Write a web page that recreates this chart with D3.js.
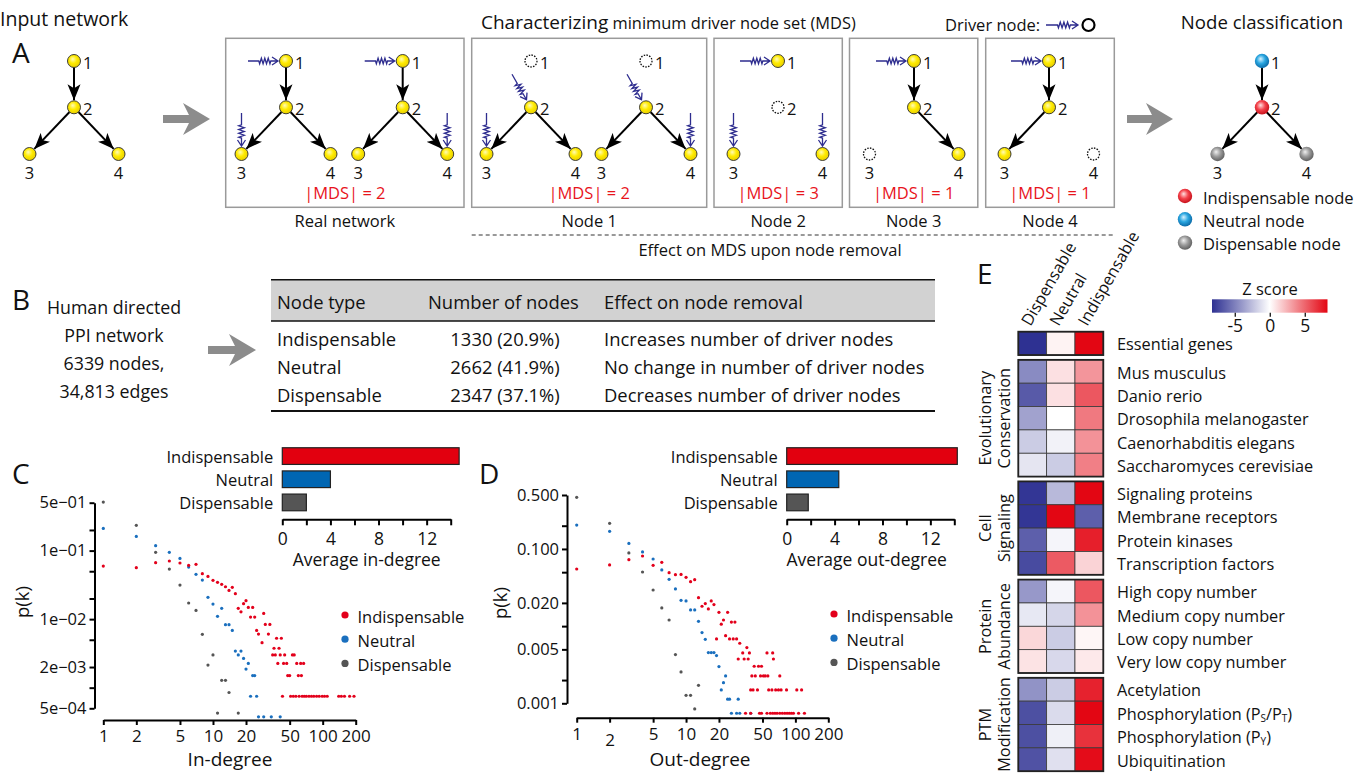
<!DOCTYPE html>
<html>
<head>
<meta charset="utf-8">
<script src="https://cdn.jsdelivr.net/npm/d3@7"></script>
<style>
  body { margin: 0; background: #fff; }
  svg text { font-family: "Open Sans", sans-serif; fill: #111; }
</style>
</head>
<body>
<div id="chart"></div>
<script>
// ---------- data ----------
const nodeTypes = ["Indispensable", "Neutral", "Dispensable"];
const avgInDegree = [14.7, 4.0, 2.0];
const avgOutDegree = [14.25, 4.35, 1.8];

const networkInfo = ["Human directed", "PPI network", "6339 nodes,", "34,813 edges"];
const tableHeader = ["Node type", "Number of nodes", "Effect on node removal"];
const tableCounts = ["1330 (20.9%)", "2662 (41.9%)", "2347 (37.1%)"];
const tableEffects = ["Increases number of driver nodes", "No change in number of driver nodes", "Decreases number of driver nodes"];

const boxLabels = ["Real  network", "Node 1", "Node 2", "Node 3", "Node 4"];
const mdsSizes = [2, 2, 3, 1, 1];
const classLabels = ["Indispensable node", "Neutral node", "Dispensable node"];

// degree distributions [k, p(k)]
const inIndisp = [[1,0.0595],[2,0.0563],[3,0.0666],[4,0.0705],[5,0.0659],[6,0.0609],[7,0.063],[8,0.046],[9,0.042],[10,0.0368],
  [11,0.0344],[12,0.0322],[13,0.0297],[14,0.0262],[15,0.0291],[16,0.0235],[17,0.0144],[18,0.0128],[19,0.0168],[20,0.0186],
  [21,0.0148],[23,0.0148],[22,0.0107],[24,0.0107],[29,0.0121],[25,0.00685],[26,0.00606],[28,0.00453],[30,0.00838],[33,0.00838],
  [32,0.00606],[38,0.00526],[42,0.00526],[36,0.00376],[40,0.00376],[35,0.003],[37,0.003],[41,0.003],[45,0.003],[53,0.003],[55,0.003],
  [39,0.00226],[44,0.00226],[47,0.00226],[58,0.00226],[63,0.00226],[67,0.00226],[48,0.0015],[50,0.0015],[60,0.0015],[64,0.0015],
  [43,0.00075],[51,0.00075],[54,0.00075],[57,0.00075],[61,0.00075],[65,0.00075],[68,0.00075],[71,0.00075],[75,0.00075],[79,0.00075],
  [83,0.00075],[88,0.00075],[93,0.00075],[99,0.00075],[104,0.00075],[110,0.00075],[140,0.00075],[148,0.00075],[158,0.00075],[176,0.00075],[193,0.00075]];
const inNeutral = [[1,0.211],[2,0.161],[3,0.118],[4,0.0943],[5,0.077],[6,0.0575],[7,0.045],[8,0.0372],[9,0.0208],[10,0.0166],
  [11,0.011],[12,0.0144],[13,0.0083],[14,0.0083],[15,0.00685],[16,0.00342],[17,0.003],[18,0.00342],[19,0.00267],[21,0.00226],
  [20,0.00187],[23,0.0015],[24,0.0015],[22,0.00075],[25,0.00075],[26,0.000376],[29,0.000376],[34,0.000376],[41,0.000376]];
const inDisp = [[1,0.51],[2,0.234],[3,0.0943],[4,0.0538],[5,0.0314],[6,0.0172],[7,0.0134],[8,0.006],[9,0.00214],[10,0.003],
  [11,0.000426],[12,0.00128],[13,0.00128],[14,0.00085],[17,0.000426]];

const outIndisp = [[1,0.055],[2,0.062],[3,0.0727],[4,0.081],[5,0.0614],[6,0.0671],[7,0.0493],[8,0.0464],[9,0.0467],[10,0.0429],
  [11,0.0377],[12,0.04],[13,0.0234],[14,0.0181],[15,0.0196],[16,0.0167],[17,0.0212],[18,0.019],[19,0.00682],[20,0.0151],
  [21,0.0106],[22,0.012],[24,0.0151],[26,0.0113],[28,0.0113],[23,0.00753],[25,0.00682],[27,0.00682],[29,0.00682],[31,0.006],
  [33,0.00449],[38,0.00449],[36,0.00527],[30,0.00375],[34,0.00375],[37,0.00375],[55,0.00449],[62,0.00449],[63,0.00375],
  [42,0.00302],[46,0.00302],[49,0.00302],[40,0.00226],[43,0.00226],[48,0.00226],[51,0.00226],[53,0.00226],[56,0.00226],[72,0.00226],
  [39,0.00149],[41,0.00149],[45,0.00149],[57,0.00149],[61,0.00149],[66,0.00149],[70,0.00149],[74,0.00149],[83,0.00149],[103,0.00149],[114,0.00149],
  [35,0.000743],[39,0.000743],[47,0.000743],[49,0.000743],[55,0.000743],[59,0.000743],[62,0.000743],[65,0.000743],[68,0.000743],
  [72,0.000743],[76,0.000743],[80,0.000743],[84,0.000743],[88,0.000743],[92,0.000743],[96,0.000743],[107,0.000743],[121,0.000743]];
const outNeutral = [[1,0.204],[2,0.169],[3,0.118],[4,0.0914],[5,0.0741],[6,0.0534],[7,0.0404],[8,0.0303],[9,0.0216],[10,0.0212],
  [11,0.0162],[12,0.0162],[13,0.01155],[14,0.00824],[15,0.00675],[16,0.00454],[17,0.00454],[18,0.00454],[19,0.00415],[20,0.00299],
  [23,0.00226],[22,0.00185],[21,0.00149],[24,0.00113],[25,0.00113],[30,0.00113],[26,0.000743],[29,0.000743],[31,0.000743],[39,0.000743]];
const outDisp = [[1,0.467],[2,0.215],[3,0.0887],[4,0.0503],[5,0.0294],[6,0.0172],[7,0.012],[8,0.00428],[9,0.00255],[10,0.00127],
  [11,0.00127],[13,0.00171],[12,0.000845]];

const degreeTicks = [1, 2, 5, 10, 20, 50, 100, 200];
const inPTicks = [0.5, 0.2, 0.1, 0.05, 0.02, 0.01, 0.005, 0.002, 0.001, 0.0005];
const inPLabels = ["5e\u221201", "", "1e\u221201", "", "", "1e\u221202", "", "2e\u221203", "", "5e\u221204"];
const outPTicks = [0.5, 0.2, 0.1, 0.05, 0.02, 0.01, 0.005, 0.002, 0.001];
const outPLabels = ["0.500", "", "0.100", "", "0.020", "", "0.005", "", "0.001"];
const barTicks = [0, 2, 4, 6, 8, 10, 12, 14];

// heatmap (Z scores)
const heatColumns = ["Dispensable", "Neutral", "Indispensable"];
const heatRows = ["Essential genes", "Mus musculus", "Danio rerio", "Drosophila melanogaster", "Caenorhabditis elegans",
  "Saccharomyces cerevisiae", "Signaling proteins", "Membrane receptors", "Protein kinases", "Transcription factors",
  "High copy number", "Medium copy number", "Low copy number", "Very low copy number", "Acetylation",
  "Phosphorylation (P_S/P_T)", "Phosphorylation (P_Y)", "Ubiquitination"];
const heatRowGroup = [0, 1, 1, 1, 1, 1, 2, 2, 2, 2, 3, 3, 3, 3, 4, 4, 4, 4];
const heatGroupNames = [[], ["Evolutionary", "Conservation"], ["Cell", "Signaling"], ["Protein", "Abundance"], ["PTM", "Modification"]];
const zDispensable = [-8, -4.5, -6.4, -3.6, -2, -1, -7.8, -7.8, -6.2, -7, -4, -0.9, 1.3, 0.9, -4.2, -6.8, -6.8, -6.7];
const zNeutral = [0.4, 1, 1, 0, -0.5, -2, -2.7, 8, -0.4, 5.3, -0.4, -1.6, -2, -1.5, -2, -1.4, -0.6, -1.2];
const zIndispensable = [8, 3.4, 5.4, 4.3, 3.5, 4.1, 8, -6.2, 7.2, 1.4, 5.4, 3.5, 0.3, 0.7, 7.1, 8, 6.6, 7.8];
const zTicks = [-5, 0, 5];

// ---------- drawing ----------
const red = "#e2000f", blue = "#0066b3", gray = "#555555", navy = "#2e2d8f";
const typeColors = [red, blue, gray];
const dotColors = ["#e3001b", "#1a6fbe", "#555555"];

const svg = d3.select("#chart").append("svg").attr("width", 1368).attr("height", 774);
const defs = svg.append("defs");

defs.append("marker").attr("id", "ah").attr("viewBox", "0 -7 16 14")
  .attr("refX", 16).attr("refY", 0).attr("markerWidth", 16).attr("markerHeight", 14)
  .attr("markerUnits", "userSpaceOnUse").attr("orient", "auto")
  .append("path").attr("d", "M0,-6.5L16,0L0,6.5L4,0Z").attr("fill", "#000");

function radial(id, stops) {
  const gr = defs.append("radialGradient").attr("id", id).attr("cx", 0.45).attr("cy", 0.42).attr("r", 0.6)
    .attr("fx", 0.4).attr("fy", 0.35);
  stops.forEach((c, i) => gr.append("stop").attr("offset", i / (stops.length - 1)).attr("stop-color", c));
}
radial("yel", ["#fffbb8", "#ffeb00", "#e6cc00"]);
radial("sRed", ["#ffe0e0", "#f4434c", "#c40d17"]);
radial("sBlue", ["#d8f2ff", "#29a6e0", "#0a66a3"]);
radial("sGray", ["#f0f0f0", "#9b9b9b", "#5c5c5c"]);

function txt(x, y, s, size, opts = {}) {
  const t = svg.append("text").attr("x", x).attr("y", y).attr("font-size", size).text(s);
  if (opts.anchor) t.attr("text-anchor", opts.anchor);
  if (opts.fill) t.style("fill", opts.fill);
  if (opts.mid) t.attr("dominant-baseline", "central");
  return t;
}

// panel letters
[["A", 12, 63], ["B", 12, 310], ["C", 12, 484], ["D", 479, 484], ["E", 977, 284]]
  .forEach(d => txt(d[1], d[2], d[0], 28));

// ----- panel A -----
txt(0, 26, "Input network", 19.5);
const ch = txt(481, 29, "Characterizing", 19);
ch.append("tspan").attr("font-size", 16.4).text(" minimum driver node set (MDS)");
txt(945, 31, "Driver node:", 16.5);
txt(1262, 29, "Node classification", 18.6, { anchor: "middle" });

function springPath(x0, y0, x1, y1) {
  const dx = x1 - x0, dy = y1 - y0, L = Math.hypot(dx, dy);
  const ux = dx / L, uy = dy / L, nx = -uy, ny = ux;
  const P = p => [x0 + ux * p[0] + nx * p[1], y0 + uy * p[0] + ny * p[1]];
  const a = 0.36 * L, b = 0.76 * L, n = 7;
  const pts = [[0, 0], [a, 0]];
  for (let i = 1; i <= n; i++) pts.push([a + (b - a) * (i - 0.5) / n, (i % 2 ? 1 : -1) * 2.8]);
  pts.push([b, 0], [L, 0]);
  const tip = P([L, 0]), w1 = P([L - 6, 4]), w2 = P([L - 6, -4]);
  return d3.line()(pts.map(P)) + `M${w1}L${tip}L${w2}`;
}
function spring(x0, y0, x1, y1) {
  svg.append("path").attr("d", springPath(x0, y0, x1, y1)).attr("fill", "none")
    .attr("stroke", navy).attr("stroke-width", 1.3);
}
spring(1046, 25, 1078, 25);
svg.append("circle").attr("cx", 1088.5).attr("cy", 25).attr("r", 6).attr("fill", "none")
  .attr("stroke", "#000").attr("stroke-width", 2.2);

// boxes
const boxX = [225.7, 471.7, 714, 849.5, 985.7];
const boxW = [238.3, 235, 128.3, 128.3, 128.6];
boxX.forEach((x, i) => {
  svg.append("rect").attr("x", x).attr("y", 38.3).attr("width", boxW[i]).attr("height", 169)
    .attr("fill", "none").attr("stroke", "#9a9a9a").attr("stroke-width", 1.5);
  txt(x + boxW[i] / 2, 199, `|MDS| = ${mdsSizes[i]}`, 16.5, { anchor: "middle", fill: "#e8141c" });
  txt(x + boxW[i] / 2, 227, boxLabels[i], 16.5, { anchor: "middle" });
});
svg.append("line").attr("x1", 471.7).attr("x2", 1114.3).attr("y1", 235).attr("y2", 235)
  .attr("stroke", "#333").attr("stroke-width", 1).attr("stroke-dasharray", "4,3");
txt(770, 256, "Effect on MDS upon node removal", 16.5, { anchor: "middle" });

// gray block arrows
function blockArrow(x0, x1, y) {
  svg.append("path").attr("fill", "#8c8c8c").attr("d",
    `M${x0},${y - 4}H${x1 - 21}L${x1 - 27},${y - 16}L${x1},${y}L${x1 - 27},${y + 16}L${x1 - 21},${y + 4}H${x0}Z`);
}
blockArrow(163, 210, 119);
blockArrow(1127, 1173, 119);
blockArrow(208, 256, 350);

// small networks
const nodeOff = [[0, 0], [0, 46.3], [-44.5, 93], [44.5, 93]];
const allEdges = [[0, 1], [1, 2], [1, 3]];
const nets = [
  { cx: 74, removed: -1, edges: allEdges, drivers: [] },
  { cx: 286, removed: -1, edges: allEdges, drivers: [[0, "h"], [2, "v"]] },
  { cx: 402.7, removed: -1, edges: allEdges, drivers: [[0, "h"], [3, "v"]] },
  { cx: 531, removed: 0, edges: [[1, 2], [1, 3]], drivers: [[1, "d"], [2, "v"]] },
  { cx: 646, removed: 0, edges: [[1, 2], [1, 3]], drivers: [[1, "d"], [3, "v"]] },
  { cx: 778, removed: 1, edges: [], drivers: [[0, "h"], [2, "v"], [3, "v"]] },
  { cx: 914, removed: 2, edges: [[0, 1], [1, 3]], drivers: [[0, "h"]] },
  { cx: 1049, removed: 3, edges: [[0, 1], [1, 2]], drivers: [[0, "h"]] },
  { cx: 1262, removed: -1, edges: allEdges, drivers: [], fills: ["url(#sBlue)", "url(#sRed)", "url(#sGray)", "url(#sGray)"] }
];
const driverGeom = { h: [-38, 0, -8, 0], v: [0, -41, 0, -8], d: [-19, -33, -4.5, -7.5] };
const R = 6.5;
nets.forEach(n => {
  const pos = nodeOff.map(o => [n.cx + o[0], 61 + o[1]]);
  n.edges.forEach(([s, t]) => {
    const [x0, y0] = pos[s], [x1, y1] = pos[t];
    const L = Math.hypot(x1 - x0, y1 - y0), ux = (x1 - x0) / L, uy = (y1 - y0) / L;
    svg.append("line").attr("x1", x0 + ux * R).attr("y1", y0 + uy * R)
      .attr("x2", x1 - ux * (R + 0.5)).attr("y2", y1 - uy * (R + 0.5))
      .attr("stroke", "#000").attr("stroke-width", 2).attr("marker-end", "url(#ah)");
  });
  pos.forEach((p, i) => {
    const c = svg.append("circle").attr("cx", p[0]).attr("cy", p[1]);
    if (i === n.removed) {
      c.attr("r", 6).attr("fill", "none").attr("stroke", "#111").attr("stroke-width", 1.3)
        .attr("stroke-dasharray", "1.5,1.3");
    } else if (n.fills) {
      c.attr("r", 7.2).attr("fill", n.fills[i]);
    } else {
      c.attr("r", R).attr("fill", "url(#yel)").attr("stroke", "#2a2a2a").attr("stroke-width", 0.9);
    }
    if (i < 2) txt(p[0] + 9, p[1] + 1, String(i + 1), 16.5, { mid: true });
    else txt(p[0], p[1] + 18, String(i + 1), 16.5, { anchor: "middle", mid: true });
  });
  n.drivers.forEach(([i, kind]) => {
    const g = driverGeom[kind], p = pos[i];
    spring(p[0] + g[0], p[1] + g[1], p[0] + g[2], p[1] + g[3]);
  });
});

// classification legend
const legFills = ["url(#sRed)", "url(#sBlue)", "url(#sGray)"];
classLabels.forEach((s, i) => {
  const y = 196 + i * 23.3;
  svg.append("circle").attr("cx", 1185).attr("cy", y).attr("r", 7.2).attr("fill", legFills[i]);
  txt(1203, y + 1, s, 16.5, { mid: true });
});

// ----- panel B -----
networkInfo.forEach((s, i) => txt(114, 307 + i * 28, s, 17.8, { anchor: "middle", mid: true }));
svg.append("rect").attr("x", 271).attr("y", 280).attr("width", 664).attr("height", 41).attr("fill", "#d2d2d2");
[[279.8, 1.4], [321, 1.6], [411, 2]].forEach(([y, w]) =>
  svg.append("line").attr("x1", 271).attr("x2", 935).attr("y1", y).attr("y2", y)
    .attr("stroke", "#111").attr("stroke-width", w));
const colX = [277, 428, 604];
tableHeader.forEach((s, i) => txt(colX[i], 301, s, 18.4, { mid: true }));
nodeTypes.forEach((s, i) => {
  const y = 338 + i * 28;
  txt(colX[0], y, s, 18.4, { mid: true });
  txt(505, y, tableCounts[i], 18.4, { mid: true, anchor: "middle" });
  txt(colX[2], y, tableEffects[i], 18.4, { mid: true });
});

// ----- panels C & D -----
function styleAxis(a, size) {
  a.select(".domain").attr("stroke", "#000").attr("stroke-width", 2);
  a.selectAll(".tick line").attr("stroke", "#000").attr("stroke-width", 2);
  a.selectAll(".tick text").attr("font-size", size).attr("font-family", "Open Sans").style("fill", "#111");
}

function drawBars(values, xr, title, titleX) {
  const x = d3.scaleLinear().domain([0, 14]).range(xr);
  const y = d3.scaleBand().domain(nodeTypes).range([444.5, 514]).paddingInner(0.28).paddingOuter(0.14);
  const g = svg.append("g");
  g.selectAll("rect").data(values).join("rect")
    .attr("x", x(0)).attr("y", (d, i) => y(nodeTypes[i]))
    .attr("width", d => x(d) - x(0)).attr("height", y.bandwidth())
    .attr("fill", (d, i) => typeColors[i]).attr("stroke", "#222").attr("stroke-width", 1.2);
  g.selectAll("text.lab").data(nodeTypes).join("text").attr("class", "lab")
    .attr("x", x(0) - 9).attr("y", d => y(d) + y.bandwidth() / 2).attr("dominant-baseline", "central")
    .attr("text-anchor", "end").attr("font-size", 16.5).text(d => d);
  const ax = g.append("g").attr("transform", "translate(0,519.3)")
    .call(d3.axisBottom(x).tickValues(barTicks).tickFormat(d => (d % 4 === 0 && d < 14) ? d : "")
      .tickSize(6).tickSizeOuter(0).tickPadding(7));
  styleAxis(ax, 17.5);
  txt(titleX, 566, title, 17.5, { anchor: "middle" });
}

function drawScatter(o) {
  const x = d3.scaleLog().domain([1, 200]).range(o.xr);
  const y = d3.scaleLog().domain(o.yd).range(o.yr);
  const g = svg.append("g");
  const xa = g.append("g").attr("transform", `translate(0,${o.xAxisY})`)
    .call(d3.axisBottom(x).tickValues(degreeTicks).tickFormat(d3.format("d")).tickSize(5).tickSizeOuter(0).tickPadding(5));
  styleAxis(xa, 17);
  if (o.lowTwo) xa.selectAll(".tick text").filter(d => d === 2).attr("dy", "1.05em");
  const ya = g.append("g").attr("transform", `translate(${o.yAxisX},0)`)
    .call(d3.axisLeft(y).tickValues(o.yTicks).tickFormat((d, i) => o.yLabels[i]).tickSize(5).tickSizeOuter(0).tickPadding(3));
  styleAxis(ya, 16.5);
  [o.series[2], o.series[1], o.series[0]].forEach((s, j) => {
    const ci = 2 - j;
    g.append("g").selectAll("circle").data(s).join("circle")
      .attr("cx", d => x(d[0])).attr("cy", d => y(d[1])).attr("r", 1.6).attr("fill", dotColors[ci]);
  });
  nodeTypes.forEach((s, i) => {
    const ly = o.legY + i * 24.2;
    g.append("circle").attr("cx", o.legX).attr("cy", ly).attr("r", 3.6).attr("fill", dotColors[i]);
    g.append("text").attr("x", o.legX + 12.5).attr("y", ly + 1).attr("dominant-baseline", "central")
      .attr("font-size", 16.5).text(s);
  });
  svg.append("text").attr("transform", `translate(${o.pkX},${o.pkY}) rotate(-90)`)
    .attr("text-anchor", "middle").attr("dominant-baseline", "central").attr("font-size", 18.5).text("p(k)");
  txt(o.titleX, 766, o.title, 19, { anchor: "middle" });
}

drawBars(avgInDegree, [282.3, 450.7], "Average in-degree", 366.7);
drawBars(avgOutDegree, [786.7, 954.3], "Average out-degree", 866.7);

drawScatter({
  xr: [103.3, 355.7], yd: [0.5, 0.0005], yr: [502.7, 708.3], xAxisY: 720, yAxisX: 94.5,
  yTicks: inPTicks, yLabels: inPLabels, series: [inIndisp, inNeutral, inDisp],
  legX: 345, legY: 615, pkX: 21, pkY: 602, title: "In-degree", titleX: 230
});
drawScatter({
  xr: [576.7, 828.3], yd: [0.5, 0.001], yr: [495, 703.3], xAxisY: 717.7, yAxisX: 567,
  yTicks: outPTicks, yLabels: outPLabels, series: [outIndisp, outNeutral, outDisp], lowTwo: true,
  legX: 834, legY: 614, pkX: 499, pkY: 603, title: "Out-degree", titleX: 700
});

// ----- panel E -----
const zColor = d3.scaleLinear().domain([-8, 0, 8]).range(["#2e3192", "#ffffff", "#e30613"]).clamp(true);
const colScale = d3.scaleBand().domain(heatColumns).range([1018.3, 1103.3]);
const rowH = 23.35, groupGap = 4.8, heatTop = 331.7;
const rowY = i => heatTop + i * rowH + heatRowGroup[i] * groupGap;
const zCols = [zDispensable, zNeutral, zIndispensable];

const hg = svg.append("g");
heatRows.forEach((r, i) => {
  zCols.forEach((col, j) => {
    hg.append("rect").attr("x", colScale(heatColumns[j])).attr("y", rowY(i))
      .attr("width", colScale.bandwidth()).attr("height", rowH)
      .attr("fill", zColor(col[i])).attr("stroke", "#3a3a3a").attr("stroke-width", 0.8);
  });
  const t = hg.append("text").attr("x", 1117).attr("y", rowY(i) + rowH / 2 + 1)
    .attr("dominant-baseline", "central").attr("font-size", 16.3);
  r.split(/_(.)/).forEach((part, k) => {
    if (k % 2 === 1) t.append("tspan").attr("font-size", 10).attr("dy", 4).text(part);
    else if (part) t.append("tspan").attr("dy", k > 0 ? -4 : 0).text(part);
  });
});
// group outlines and labels
heatGroupNames.forEach((names, gi) => {
  const idx = heatRowGroup.map((g, i) => g === gi ? i : -1).filter(i => i >= 0);
  const y0 = rowY(idx[0]), y1 = rowY(idx[idx.length - 1]) + rowH;
  hg.append("rect").attr("x", 1018.3).attr("y", y0).attr("width", 85).attr("height", y1 - y0)
    .attr("fill", "none").attr("stroke", "#222").attr("stroke-width", 1.8);
  names.forEach((s, k) => {
    hg.append("text").attr("transform", `translate(${985 + k * 18.5},${(y0 + y1) / 2}) rotate(-90)`)
      .attr("text-anchor", "middle").attr("dominant-baseline", "central").attr("font-size", 16.3).text(s);
  });
});
heatColumns.forEach(c => {
  const cx = colScale(c) + colScale.bandwidth() / 2;
  hg.append("text").attr("transform", `translate(${cx - 2},${327}) rotate(-60)`)
    .attr("font-size", 16.3).text(c);
});

// colour bar
const zx = d3.scaleLinear().domain([-8.25, 8.25]).range([1212, 1327.5]);
const grad = defs.append("linearGradient").attr("id", "zgrad");
[-8.25, -4, 0, 4, 8.25].forEach(v => grad.append("stop")
  .attr("offset", (v + 8.25) / 16.5).attr("stop-color", zColor(v)));
svg.append("rect").attr("x", zx(-8.25)).attr("y", 299.3).attr("width", zx(8.25) - zx(-8.25)).attr("height", 13.4)
  .attr("fill", "url(#zgrad)");
const zax = svg.append("g").attr("transform", "translate(0,312.7)")
  .call(d3.axisBottom(zx).tickValues(zTicks).tickFormat(d => d < 0 ? "-" + Math.abs(d) : d).tickSize(4).tickPadding(3));
zax.select(".domain").remove();
styleAxis(zax, 17.5);
zax.selectAll(".tick line").attr("stroke-width", 1.2);
txt(1270, 295, "Z score", 16.5, { anchor: "middle" });
</script>
</body>
</html>
